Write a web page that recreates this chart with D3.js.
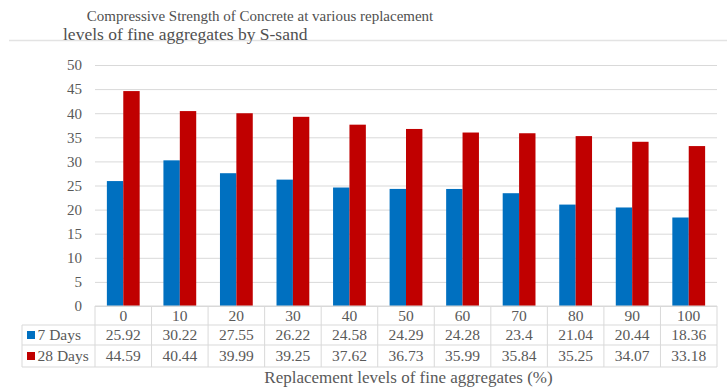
<!DOCTYPE html>
<html>
<head>
<meta charset="utf-8">
<script src="https://cdn.jsdelivr.net/npm/d3@7"></script>
<style>
  html, body { margin: 0; padding: 0; background: #fff; }
</style>
</head>
<body>
<svg id="chart" width="727" height="390"></svg>
<script>
// Replacement levels (%) of fine aggregates by S-sand
const levels = ["0", "10", "20", "30", "40", "50", "60", "70", "80", "90", "100"];
const seriesNames = ["7 Days", "28 Days"];
const strength7 = [25.92, 30.22, 27.55, 26.22, 24.58, 24.29, 24.28, 23.4, 21.04, 20.44, 18.36];
const strength28 = [44.59, 40.44, 39.99, 39.25, 37.62, 36.73, 35.99, 35.84, 35.25, 34.07, 33.18];
const yTicks = [0, 5, 10, 15, 20, 25, 30, 35, 40, 45, 50];
const colors = ["#0070C0", "#C00000"];

const values = [strength7, strength28];
const svg = d3.select("#chart");
const serif = '"Liberation Serif", "Times New Roman", serif';

const plot = { left: 95, right: 717, top: 65, bottom: 306 };
const rowH = [19, 20, 22];
const legendLeft = 22;
const tableFont = 15.5;

const x = d3.scaleBand().domain(levels).range([plot.left, plot.right]);
const step = x.bandwidth();
const xs = d3.scaleBand().domain(seriesNames).range([step * 0.21, step * 0.79]);
const y = d3.scaleLinear().domain([0, 50]).range([plot.bottom, plot.top]);

// Top rule of the chart area
svg.append("line")
  .attr("x1", 9).attr("x2", 727).attr("y1", 40.5).attr("y2", 40.5)
  .attr("stroke", "#e3e3e3").attr("stroke-width", 1.5);

// Title (two lines)
svg.append("text")
  .attr("x", 260).attr("y", 20.5)
  .attr("text-anchor", "middle")
  .attr("font-size", 15).attr("fill", "#505050")
  .text("Compressive Strength of Concrete at various replacement");
svg.append("text")
  .attr("x", 63).attr("y", 39.5)
  .attr("font-size", 17.5).attr("fill", "#505050")
  .text("levels of fine aggregates by S-sand");

// Gridlines and y labels
const yAxis = d3.axisLeft(y).tickValues(yTicks).tickSize(-(plot.right - plot.left)).tickPadding(13);
const gy = svg.append("g").attr("transform", `translate(${plot.left},0)`).call(yAxis);
gy.select(".domain").remove();
gy.selectAll(".tick line").attr("stroke", "#d9d9d9").attr("stroke-width", 1);
gy.selectAll(".tick text")
  .attr("font-size", 15).attr("fill", "#595959");

// Bars
const groups = svg.append("g").selectAll("g")
  .data(levels)
  .join("g")
  .attr("transform", d => `translate(${x(d)},0)`);
groups.selectAll("rect")
  .data((d, i) => seriesNames.map((s, k) => ({ s, k, v: values[k][i] })))
  .join("rect")
  .attr("x", d => xs(d.s))
  .attr("width", xs.bandwidth())
  .attr("y", d => y(d.v))
  .attr("height", d => y(0) - y(d.v))
  .attr("fill", d => colors[d.k]);

// Data table under the plot
const tbl = svg.append("g");
const rowTop = [plot.bottom, plot.bottom + rowH[0], plot.bottom + rowH[0] + rowH[1]];
const tableBottom = rowTop[2] + rowH[2];
const border = "#d9d9d9";

// horizontal lines
tbl.append("line").attr("x1", plot.left).attr("x2", plot.right).attr("y1", rowTop[0]).attr("y2", rowTop[0]).attr("stroke", border);
[rowTop[1], rowTop[2], tableBottom].forEach(yy => {
  tbl.append("line").attr("x1", legendLeft).attr("x2", plot.right).attr("y1", yy).attr("y2", yy).attr("stroke", border);
});
// vertical lines
levels.forEach(l => {
  tbl.append("line").attr("x1", x(l)).attr("x2", x(l)).attr("y1", rowTop[0]).attr("y2", tableBottom).attr("stroke", border);
});
tbl.append("line").attr("x1", plot.right).attr("x2", plot.right).attr("y1", rowTop[0]).attr("y2", tableBottom).attr("stroke", border);
tbl.append("line").attr("x1", legendLeft).attr("x2", legendLeft).attr("y1", rowTop[1]).attr("y2", tableBottom).attr("stroke", border);

// category header row
tbl.selectAll("text.cat")
  .data(levels)
  .join("text")
  .attr("class", "cat")
  .attr("x", d => x(d) + step / 2)
  .attr("y", rowTop[0] + 15)
  .attr("text-anchor", "middle")
  .attr("font-size", tableFont).attr("fill", "#595959")
  .text(d => d);

// value rows with legend keys
seriesNames.forEach((s, k) => {
  const top = rowTop[k + 1];
  const h = rowH[k + 1];
  tbl.append("rect")
    .attr("x", 27).attr("y", top + h / 2 - 4)
    .attr("width", 8).attr("height", 8)
    .attr("fill", colors[k]);
  tbl.append("text")
    .attr("x", 37.5).attr("y", top + h / 2 + 5)
    .attr("font-size", tableFont).attr("fill", "#595959")
    .text(s);
  tbl.selectAll(null)
    .data(values[k])
    .join("text")
    .attr("x", (d, i) => x(levels[i]) + step / 2)
    .attr("y", top + h / 2 + 5)
    .attr("text-anchor", "middle")
    .attr("font-size", tableFont).attr("fill", "#595959")
    .text(d => d);
});

// X axis title
svg.append("text")
  .attr("x", 408.5).attr("y", 383)
  .attr("text-anchor", "middle")
  .attr("font-size", 17).attr("fill", "#595959")
  .text("Replacement levels of fine aggregates (%)");

// Serif face for every label
svg.selectAll("text").style("font-family", serif);
</script>
</body>
</html>
